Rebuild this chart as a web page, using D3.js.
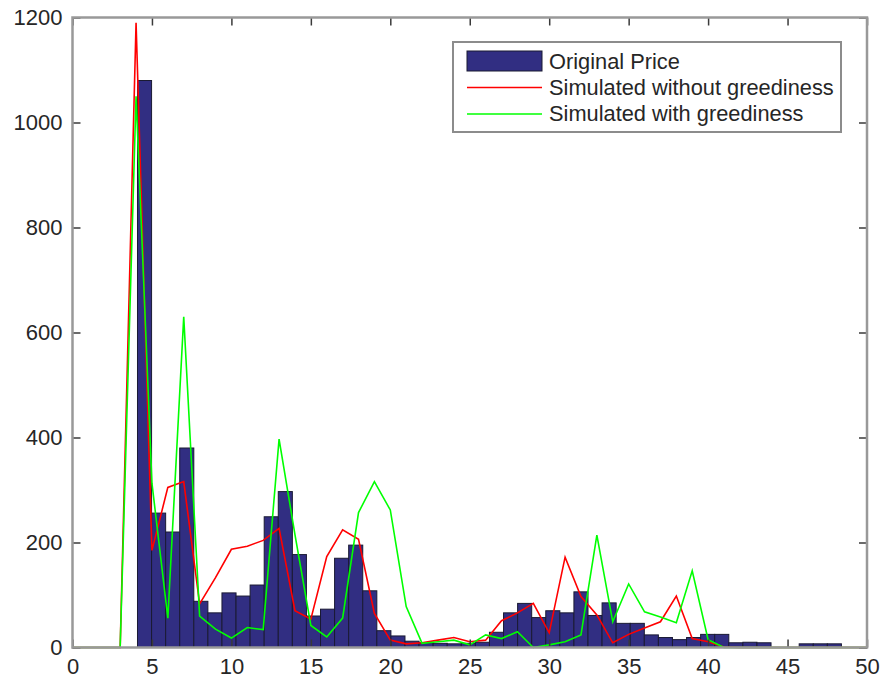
<!DOCTYPE html>
<html>
<head>
<meta charset="utf-8">
<script src="https://cdn.jsdelivr.net/npm/d3@7"></script>
<style>
  body { margin: 0; background: #fff; }
  svg text { font-family: "Liberation Sans", Arial, sans-serif; fill: #262626; }
</style>
</head>
<body>
<svg id="chart"></svg>
<script>
// histogram of original prices: 50 bins from binLo to binHi
let binLo = 4.09, binHi = 48.39;
let priceCounts = [
  1080, 256, 220, 380, 88, 66, 104, 98, 119, 249,
  297, 177, 60, 73, 170, 195, 108, 32, 22, 12,
  9, 8, 7, 8, 10, 29, 66, 84, 57, 70,
  66, 106, 61, 85, 46, 46, 24, 19, 15, 19,
  25, 25, 9, 10, 9, 0, 0, 7, 7, 7
];

// simulated series, one value per integer price 0..50
let simX = d3.range(0, 51);
let simNoGreed = [
  0, 0, 0, 0, 1190, 185, 305, 316, 83, 133,
  187, 193, 204, 227, 70, 54, 173, 224, 206, 65,
  14, 7, 9, 14, 19, 11, 14, 51, 66, 84,
  28, 172, 97, 62, 9, 25, 37, 49, 98, 17,
  11, 1, 0, 0, 0, 0, 0, 0, 0, 0, 0
];
let simGreed = [
  0, 0, 0, 0, 1050, 313, 56, 630, 60, 35,
  18, 38, 34, 397, 215, 42, 20, 56, 257, 316,
  262, 78, 8, 11, 14, 5, 24, 17, 30, 0,
  5, 11, 24, 214, 49, 121, 68, 58, 47, 146,
  15, 0, 0, 0, 0, 0, 0, 0, 0, 0, 0
];

let xTicks = [0, 5, 10, 15, 20, 25, 30, 35, 40, 45, 50];
let yTicks = [0, 200, 400, 600, 800, 1000, 1200];
let legendLabels = ["Original Price", "Simulated without greediness", "Simulated with greediness"];

/******************/

let margin = {top: 17.5, right: 14, bottom: 34.5, left: 72.5};
let width = 881 - margin.left - margin.right;
let height = 682 - margin.top - margin.bottom;

let xScale = d3.scaleLinear().domain([0, 50]).range([0, width]);
let yScale = d3.scaleLinear().domain([0, 1200]).range([height, 0]);

let svg = d3.select("#chart")
  .attr("width", 881)
  .attr("height", 682);

let parent = svg.append("g")
  .attr("transform", `translate(${margin.left}, ${margin.top})`);

// bars
let binW = (binHi - binLo) / priceCounts.length;
parent.selectAll(".bar")
    .data(priceCounts)
  .enter().append("rect")
    .attr("class", "bar")
    .attr("x", (d, i) => xScale(binLo + i * binW))
    .attr("width", xScale(binW) - xScale(0))
    .attr("y", d => yScale(d))
    .attr("height", d => height - yScale(d))
    .attr("fill", "#312e82")
    .attr("stroke", "#1a1a33")
    .attr("stroke-width", 1);

// lines
let line = d3.line()
  .x((d, i) => xScale(simX[i]))
  .y(d => yScale(d));

parent.append("path")
  .datum(simNoGreed)
  .attr("d", line)
  .attr("fill", "none")
  .attr("stroke", "#ff0000")
  .attr("stroke-width", 1.6);

parent.append("path")
  .datum(simGreed)
  .attr("d", line)
  .attr("fill", "none")
  .attr("stroke", "#00ff00")
  .attr("stroke-width", 1.6);

/******************/

// axes, ticks pointing inward
let xAxis = d3.axisBottom(xScale).tickValues(xTicks).tickSize(-8).tickPadding(11);
let yAxis = d3.axisLeft(yScale).tickValues(yTicks).tickFormat(d3.format("d"))
  .tickSize(-8).tickPadding(10);

parent.append("g")
  .attr("class", "x-axis")
  .attr("transform", `translate(0, ${height})`)
  .call(xAxis);

parent.append("g")
  .attr("class", "y-axis")
  .call(yAxis);

parent.append("g")
  .attr("class", "x-top")
  .call(d3.axisTop(xScale).tickValues(xTicks).tickSize(-8).tickFormat(""));

parent.append("g")
  .attr("class", "y-right")
  .attr("transform", `translate(${width}, 0)`)
  .call(d3.axisRight(yScale).tickValues(yTicks).tickSize(-8).tickFormat(""));

parent.selectAll(".domain").remove();
parent.selectAll(".tick line").attr("stroke", "#3a3a3a").attr("stroke-width", 1.5);
parent.selectAll(".tick text").style("font-size", "22px").attr("fill", "#262626");
parent.selectAll(".x-axis .tick text").attr("dy", "0.71em");

// box
parent.append("rect")
  .attr("x", 0).attr("y", 0)
  .attr("width", width).attr("height", height)
  .attr("fill", "none")
  .attr("stroke", "#999")
  .attr("stroke-width", 2.5);

/******************/

// legend
let legend = svg.append("g").attr("transform", "translate(453, 42)");
legend.append("rect")
  .attr("width", 388).attr("height", 90)
  .attr("fill", "#fff")
  .attr("stroke", "#8c8c8c")
  .attr("stroke-width", 2);

legend.append("rect")
  .attr("x", 14).attr("y", 9).attr("width", 75).attr("height", 20)
  .attr("fill", "#312e82").attr("stroke", "#1a1a33");

legend.append("line")
  .attr("x1", 14).attr("x2", 89).attr("y1", 45.5).attr("y2", 45.5)
  .attr("stroke", "#ff0000").attr("stroke-width", 1.6);

legend.append("line")
  .attr("x1", 14).attr("x2", 89).attr("y1", 72).attr("y2", 72)
  .attr("stroke", "#00ff00").attr("stroke-width", 1.6);

legend.selectAll(".leg-text")
    .data(legendLabels)
  .enter().append("text")
    .attr("class", "leg-text")
    .attr("x", 96)
    .attr("y", (d, i) => 19 + i * 26)
    .attr("dy", "0.35em")
    .style("font-size", "21.8px")
    .text(d => d);
</script>
</body>
</html>
